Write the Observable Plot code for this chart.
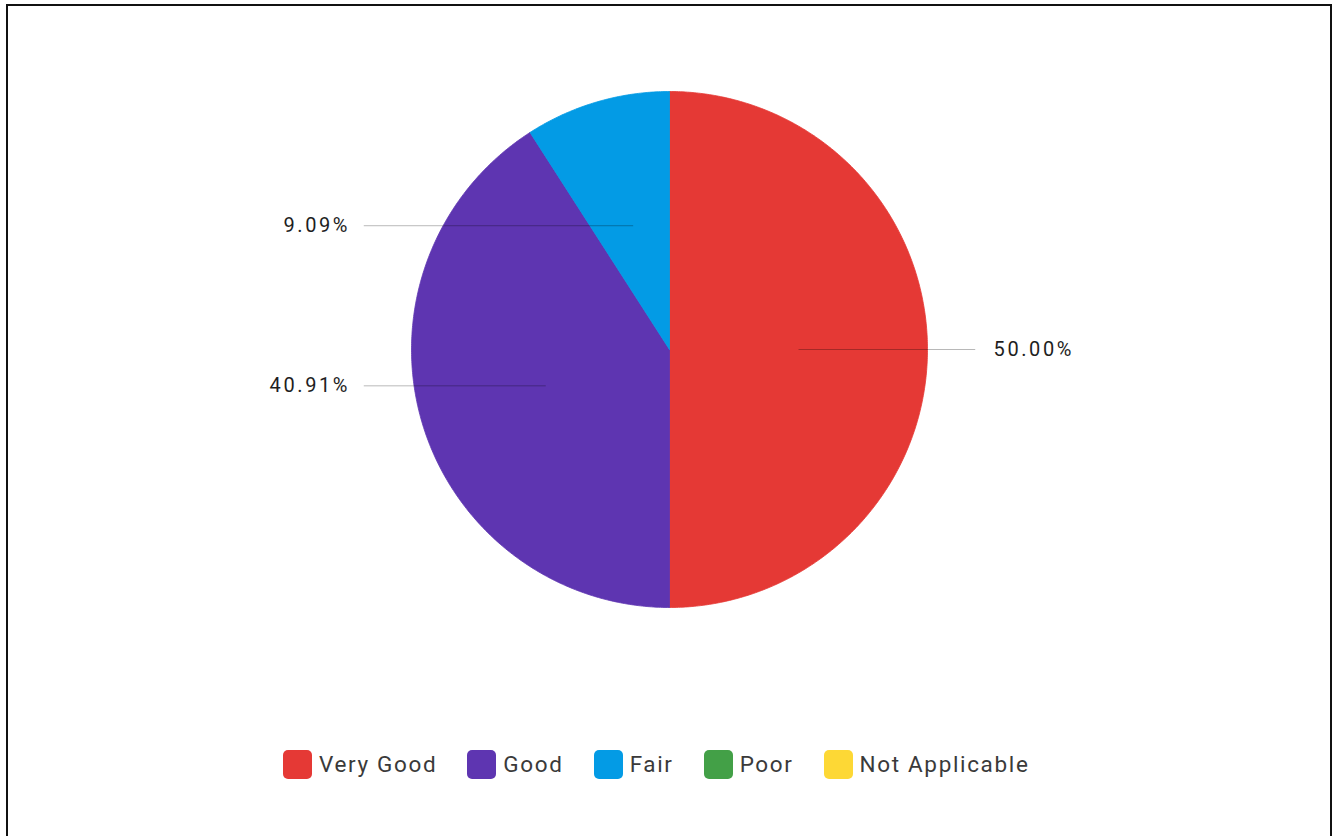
<!DOCTYPE html>
<html><head><meta charset="utf-8">
<script src="https://cdn.jsdelivr.net/npm/d3@7"></script>
<script src="https://cdn.jsdelivr.net/npm/@observablehq/plot@0.6"></script>
<style>
html,body{margin:0;padding:0;background:#fff;}
#wrap{position:relative;width:1340px;height:836px;overflow:hidden;background:#fff;font-family:Roboto,sans-serif;}
#frame{position:absolute;left:6px;top:4px;width:1326px;height:900px;border:2.5px solid #111;box-sizing:border-box;}
#chart{position:absolute;left:0;top:0;}
#legend{position:absolute;left:283px;top:749px;display:flex;align-items:center;height:30px;}
.item{display:flex;align-items:center;margin-right:30px;}
.sw{width:29px;height:29px;border-radius:5px;margin-right:7px;}
.lab{font-size:22.5px;letter-spacing:1.65px;color:#3a3a3a;}
</style></head>
<body><div id="wrap"><div id="frame"></div><div id="chart"></div><div id="legend"></div></div>
<script>
const categories = ["Very Good", "Good", "Fair", "Poor", "Not Applicable"];
const shares = [50.00, 40.91, 9.09, 0, 0];
const colors = ["#e53935", "#5e35b1", "#039be5", "#43a047", "#fdd835"];

const R = 258, CX = 669, CY = 349;
const arcs = d3.pie().sort(null).startAngle(0).endAngle(2 * Math.PI)(shares);

const slicePts = [];
arcs.forEach((a, i) => {
  if (a.value <= 0) return;
  const key = categories[i];
  slicePts.push({key, x: 0, y: 0});
  const n = Math.max(2, Math.ceil((a.endAngle - a.startAngle) / (Math.PI / 360)));
  for (let k = 0; k <= n; k++) {
    const t = a.startAngle + (a.endAngle - a.startAngle) * k / n;
    slicePts.push({key, x: Math.sin(t), y: Math.cos(t)});
  }
  slicePts.push({key, x: 0, y: 0});
});

const labels = arcs.map((a, i) => {
  if (a.value <= 0) return null;
  const m = (a.startAngle + a.endAngle) / 2;
  const ix = 0.5 * Math.sin(m), iy = 0.5 * Math.cos(m);
  const side = ix >= 0 ? 1 : -1;
  return {key: categories[i], ix, iy, side, ox: side * 1.185, tx: side * (side > 0 ? 1.256 : 1.238),
          text: shares[i].toFixed(2) + "%"};
}).filter(d => d);

const chart = Plot.plot({
  width: 1340, height: 730, margin: 0,
  style: {fontFamily: "Roboto, sans-serif", letterSpacing: "2.6px", background: "transparent"},
  x: {domain: [-1, 1], range: [CX - R, CX + R], axis: null},
  y: {domain: [-1, 1], range: [CY + R, CY - R], axis: null},
  color: {domain: categories, range: colors},
  marks: [
    Plot.line(slicePts, {x: "x", y: "y", z: "key", fill: "key", stroke: "key", strokeWidth: 0.8}),
    Plot.link(labels, {x1: "ix", y1: "iy", x2: "ox", y2: "iy", stroke: "#000", strokeOpacity: 0.28, strokeWidth: 1}),
    Plot.text(labels.filter(d => d.side > 0), {x: "tx", y: "iy", text: "text", textAnchor: "start", fontSize: 20, fill: "#1e1e1e"}),
    Plot.text(labels.filter(d => d.side < 0), {x: "tx", y: "iy", text: "text", textAnchor: "end", fontSize: 20, fill: "#1e1e1e"})
  ]
});
document.getElementById("chart").appendChild(chart);

const legend = document.getElementById("legend");
categories.forEach((c, i) => {
  const it = document.createElement("div"); it.className = "item";
  const sw = document.createElement("div"); sw.className = "sw"; sw.style.background = colors[i];
  const lb = document.createElement("span"); lb.className = "lab"; lb.textContent = c;
  it.appendChild(sw); it.appendChild(lb); legend.appendChild(it);
});
</script>
</body></html>
